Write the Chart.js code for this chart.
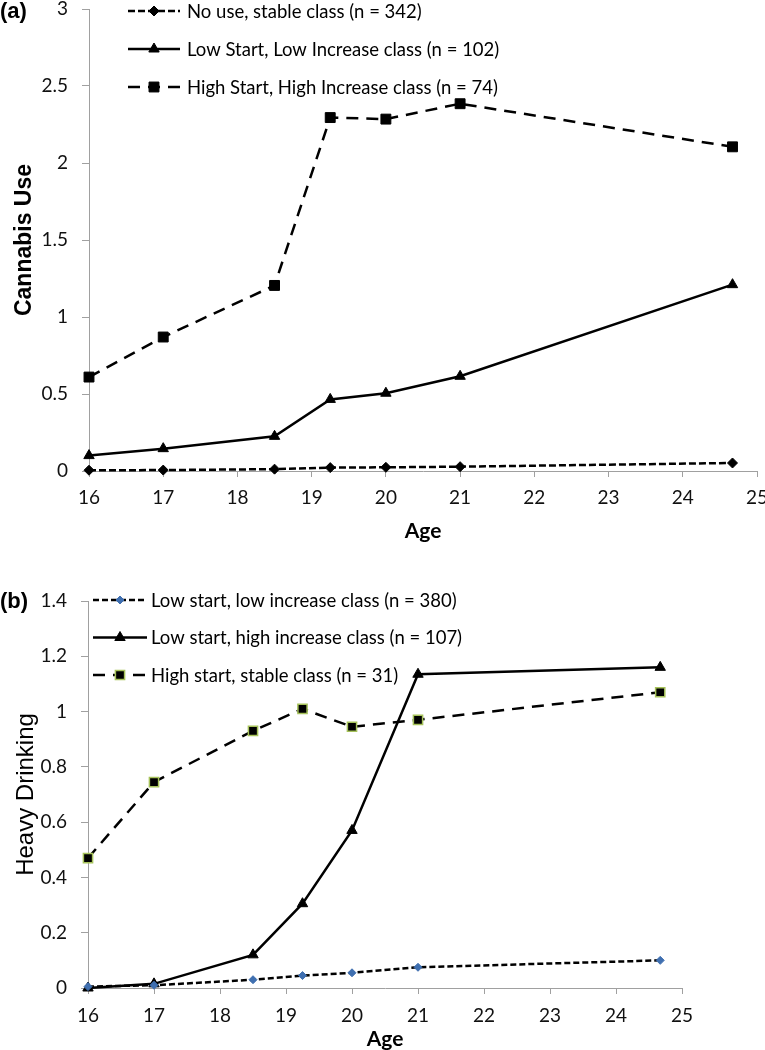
<!DOCTYPE html>
<html>
<head>
<meta charset="utf-8">
<script src="https://cdn.jsdelivr.net/npm/chart.js@4.4.1/dist/chart.umd.min.js"></script>
<style>
  body { margin: 0; background: #fff; width: 765px; height: 1050px; position: relative; overflow: hidden; }
  .box { position: absolute; left: 0; width: 765px; }
  #boxA { top: 0; height: 550px; }
  #boxB { top: 550px; height: 500px; }
  .tag { position: absolute; left: 0; font: bold 22px 'Liberation Sans', Arial, sans-serif; line-height: 24px; }
</style>
</head>
<body>
<div class="box" id="boxA"><canvas id="chartA" width="765" height="550"></canvas></div>
<div class="box" id="boxB"><canvas id="chartB" width="765" height="500"></canvas></div>
<div class="tag" style="top:-1px">(a)</div>
<div class="tag" style="top:589px">(b)</div>
<script>
// ages at each assessment wave
const ages = [16, 17, 18.5, 19.25, 20, 21, 24.67];
const xTicks = [16, 17, 18, 19, 20, 21, 22, 23, 24, 25];

// (a) cannabis use classes
const labelsA = [
  'No use, stable class (n = 342)',
  'Low Start, Low Increase class (n = 102)',
  'High Start, High Increase class (n = 74)'
];
const noUse    = [0.005, 0.006, 0.012, 0.022, 0.024, 0.028, 0.052];
const lowLow   = [0.10, 0.145, 0.225, 0.465, 0.505, 0.615, 1.21];
const highHigh = [0.61, 0.87, 1.205, 2.295, 2.285, 2.385, 2.105];
const yTicksA  = [0, 0.5, 1, 1.5, 2, 2.5, 3];

// (b) heavy drinking classes
const labelsB = [
  'Low start, low increase class (n = 380)',
  'Low start, high increase class (n = 107)',
  'High start, stable class (n = 31)'
];
const lowLowB    = [0.005, 0.01, 0.03, 0.045, 0.055, 0.075, 0.10];
const lowHighB   = [0.0, 0.015, 0.12, 0.305, 0.57, 1.135, 1.16];
const highStable = [0.47, 0.745, 0.93, 1.01, 0.945, 0.97, 1.07];
const yTicksB    = [0, 0.2, 0.4, 0.6, 0.8, 1, 1.2, 1.4];

const GRAY = '#a0a0a0';
const tickFont = { family: 'Lato', size: 19 };

const pts = vals => vals.map((v, i) => ({ x: ages[i], y: v }));

// legend drawn inside the plot, one row per dataset
const insideLegend = {
  id: 'insideLegend',
  afterDraw(chart, args, o) {
    const ctx = chart.ctx;
    ctx.save();
    chart.data.datasets.forEach((ds, i) => {
      const y = o.y + i * o.gap;
      ctx.beginPath();
      ctx.setLineDash(ds.borderDash || []);
      ctx.lineWidth = ds.borderWidth;
      ctx.strokeStyle = ds.borderColor;
      ctx.moveTo(o.x, y);
      ctx.lineTo(o.x + o.len, y);
      ctx.stroke();
      ctx.setLineDash([]);
      ctx.fillStyle = ds.pointBackgroundColor;
      ctx.strokeStyle = ds.pointBorderColor;
      ctx.lineWidth = ds.pointBorderWidth;
      Chart.helpers.drawPoint(ctx, {
        pointStyle: ds.pointStyle, radius: ds.pointRadius, rotation: 0, borderWidth: ds.pointBorderWidth
      }, o.x + o.len / 2, y);
      ctx.fillStyle = '#000';
      ctx.font = o.font;
      ctx.textBaseline = 'middle';
      ctx.fillText(ds.label, o.textX, y + 1);
    });
    ctx.restore();
  }
};

function series(label, vals, dash, style, radius, fill, border, bw) {
  return {
    label: label,
    data: pts(vals),
    borderColor: '#000',
    borderWidth: 2.5,
    borderDash: dash,
    pointStyle: style,
    pointRadius: radius,
    pointHoverRadius: radius,
    pointBackgroundColor: fill,
    pointBorderColor: border,
    pointBorderWidth: bw,
    tension: 0,
    clip: false
  };
}

function makeChart(id, datasets, yTicks, yMax, yTitle, yTitleFont, yTitlePad, ageTitlePad, pad, legend) {
  return new Chart(document.getElementById(id), {
    type: 'line',
    data: { datasets: datasets },
    options: {
      responsive: false,
      animation: false,
      layout: { padding: pad },
      plugins: { legend: { display: false }, tooltip: { enabled: false }, insideLegend: legend },
      scales: {
        x: {
          type: 'linear', min: 16, max: 25,
          afterBuildTicks: s => { s.ticks = xTicks.map(v => ({ value: v })); },
          afterFit: s => { s.height = legend.xh; s.paddingLeft = 0; s.paddingRight = 0; },
          ticks: { font: tickFont, color: '#111', padding: legend.xpad, maxRotation: 0 },
          grid: { drawOnChartArea: false, tickLength: 6, color: GRAY },
          border: { color: GRAY },
          title: {
            display: true, text: 'Age', color: '#000',
            font: { family: 'Lato', size: 21, weight: 'bold', lineHeight: 1 },
            padding: { top: 0, bottom: ageTitlePad }
          }
        },
        y: {
          min: 0, max: yMax,
          afterBuildTicks: s => { s.ticks = yTicks.map(v => ({ value: v })); },
          afterFit: s => { s.width = legend.yw; s.paddingTop = 0; s.paddingBottom = 0; },
          ticks: { font: tickFont, color: '#111', padding: 14, callback: v => String(v) },
          grid: { drawOnChartArea: false, tickLength: 7, color: GRAY },
          border: { color: GRAY },
          title: {
            display: true, text: yTitle, color: '#000', font: yTitleFont,
            padding: { top: yTitlePad, bottom: 0 }
          }
        }
      }
    },
    plugins: [insideLegend]
  });
}

makeChart('chartA', [
  series(labelsA[0], noUse, [7, 3], 'rectRot', 5, '#000', '#000', 1),
  series(labelsA[1], lowLow, [], 'triangle', 6, '#000', '#000', 1),
  series(labelsA[2], highHigh, [12, 8], 'rect', 7, '#000', '#000', 1)
], yTicksA, 3, 'Cannabis Use',
  { family: 'Liberation Sans', size: 23, weight: 'bold', lineHeight: 1.2 }, 11, 8,
  { top: 9, right: 7, left: 0, bottom: 0 },
  { x: 128, len: 52, textX: 187, y: 11, gap: 38, font: '18.5px Lato', xh: 79, yw: 89, xpad: 9 });

makeChart('chartB', [
  series(labelsB[0], lowLowB, [6, 3], 'rectRot', 4, '#3f6fb0', '#3f6fb0', 1),
  series(labelsB[1], lowHighB, [], 'triangle', 6, '#000', '#000', 1),
  series(labelsB[2], highStable, [12, 8], 'rect', 6.5, '#000', '#a6c25a', 1.5)
], yTicksB, 1.4, 'Heavy Drinking',
  { family: 'Liberation Sans', size: 24, weight: 'normal', lineHeight: 1.2 }, 12, 0,
  { top: 51, right: 83, left: 0, bottom: 0 },
  { x: 93, len: 54, textX: 151, y: 50, gap: 37.5, font: '18.5px Lato', xh: 62, yw: 88, xpad: 10 });
</script>
</body>
</html>
